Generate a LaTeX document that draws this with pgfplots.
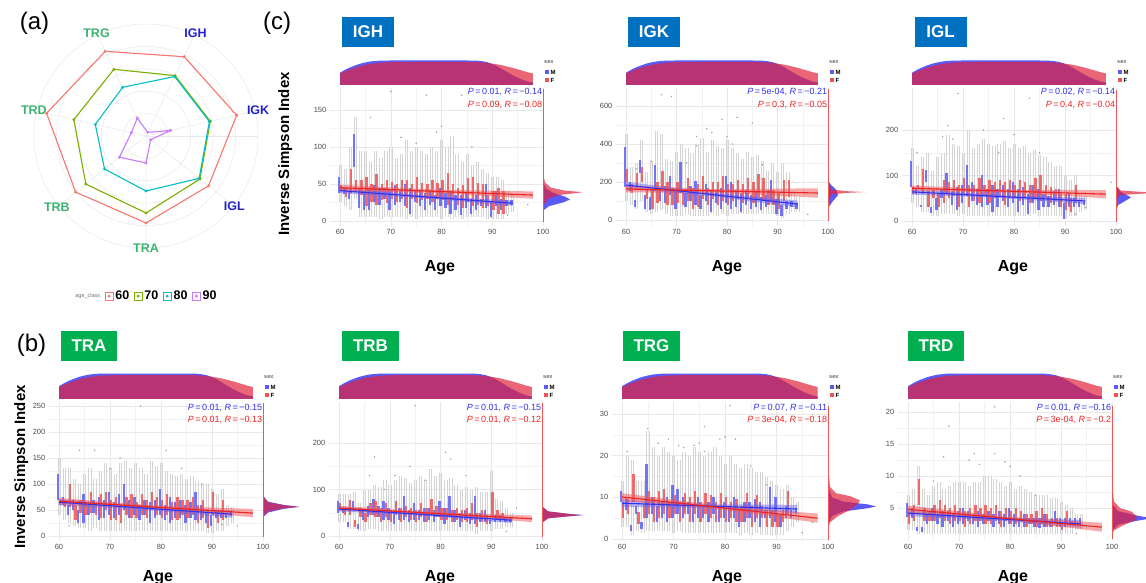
\documentclass[border=0pt]{standalone}
\usepackage{pgfplots}
\pgfplotsset{compat=1.18}
\usepackage{pgfplotstable}
\usepgfplotslibrary{polar}
\usepackage{fontspec}
\setmainfont{Liberation Sans}

\definecolor{c60}{HTML}{F8766D}
\definecolor{c70}{HTML}{7CAE00}
\definecolor{c80}{HTML}{00BFC4}
\definecolor{c90}{HTML}{C77CFF}
\definecolor{trtxt}{RGB}{60,179,113}
\definecolor{igtxt}{RGB}{34,34,204}
\definecolor{igbox}{RGB}{0,112,192}
\definecolor{trbox}{RGB}{0,176,80}
\definecolor{mb}{RGB}{95,95,245}
\definecolor{fr}{RGB}{240,85,85}
\definecolor{mline}{RGB}{50,50,235}
\definecolor{fline}{RGB}{235,35,35}
\definecolor{dm}{RGB}{90,90,245}
\definecolor{df}{RGB}{225,35,60}
\definecolor{tickc}{RGB}{77,77,77}
\definecolor{gridc}{RGB}{232,232,232}
\definecolor{whc}{RGB}{212,212,212}
\definecolor{outc}{RGB}{160,160,160}

% age distribution shared by all top margins (0..1)
\pgfplotstableread{
x  m     f
60 0.50  0.47
61 0.62  0.56
62 0.72  0.64
63 0.80  0.71
64 0.87  0.77
65 0.92  0.82
66 0.96  0.86
67 0.98  0.89
68 0.995 0.91
70 1.00  0.93
75 1.00  0.94
80 1.00  0.94
85 1.00  0.94
87 0.99  0.93
88 0.97  0.92
89 0.93  0.90
90 0.86  0.87
91 0.76  0.84
92 0.64  0.80
93 0.52  0.75
94 0.40  0.70
95 0.30  0.64
96 0.21  0.58
97 0.14  0.52
98 0.10  0.47
}\topdens

% a: age, ml/mh: male box, fl/fh: female box, wl/wh: whiskers
\pgfplotstableread{
a  ml mh  fl fh  wl wh
60 38 60  40 48  25 75
61 36 44  32 46  20 70
62 30 40  38 70  15 100
63 73 118 40 55  30 140
64 18 45  35 55  5 95
65 15 40  20 60  5 95
66 15 45  25 50  5 80
67 25 48  22 63  5 95
68 22 45  28 50  3 85
69 30 45  24 55  5 95
70 15 42  30 53  5 100
71 22 48  25 50  5 85
72 25 40  30 55  5 90
73 20 50  18 55  3 110
74 10 45  30 50  5 95
75 25 40  24 60  3 100
76 20 42  28 52  5 95
77 15 38  30 50  5 90
78 22 42  25 55  5 100
79 15 35  30 52  5 95
80 20 45  28 55  3 110
81 18 38  22 65  5 100
82 10 40  28 50  3 115
83 15 35  22 45  5 90
84 8  35  18 48  3 80
85 18 38  25 58  5 90
86 10 30  20 60  5 75
87 15 35  22 52  5 80
88 20 30  18 50  5 70
89 18 50  20 35  3 65
90 5  25  15 40  3 60
91 20 40  10 45  3 60
92 15 30  10 40  3 55
93 20 28  nan nan 10 40
94 22 28  nan nan 12 35
}\tIGH

\pgfplotstableread{
a  ml  mh  fl  fh  wl wh
60 175 385 200 270 100 450
61 150 200 140 190 80 280
62 70  105 170 245 60 300
63 245 315 200 280 100 420
64 60  130 110 160 40 250
65 50  120 60  160 30 310
66 150 290 90  200 40 470
67 100 160 160 260 50 450
68 90  180 80  200 30 320
69 130 230 80  170 20 310
70 60  160 90  200 20 360
71 140 305 80  160 20 400
72 70  140 100 220 30 380
73 100 180 60  170 20 350
74 80  205 70  190 20 400
75 60  130 110 230 20 430
76 100 190 80  170 20 360
77 40  150 110 200 30 420
78 90  150 80  200 20 390
79 60  170 100 230 30 380
80 90  230 80  190 20 420
81 60  200 100 190 30 380
82 70  160 110 210 30 350
83 40  140 90  190 30 320
84 80  160 110 220 30 360
85 60  130 90  200 30 330
86 70  150 110 240 30 340
87 50  120 100 220 30 310
88 70  130 80  160 30 260
89 100 210 80  160 30 300
90 30  110 60  140 20 250
91 20  80  100 210 10 300
92 60  100 120 210 30 250
93 70  100 nan nan 40 140
94 60  90  nan nan 40 120
}\tIGK

\pgfplotstableread{
a  ml mh  fl fh  wl wh
60 75 132 60 75  40 160
61 60 70  70 80  30 120
62 30 35  60 115 20 140
63 85 112 30 65  20 150
64 18 30  50 70  10 110
65 25 50  30 60  10 140
66 50 70  40 90  15 150
67 60 105 50 85  15 190
68 35 65  55 90  15 170
69 25 75  30 80  10 165
70 40 80  60 95  15 150
71 55 122 30 80  10 200
72 45 85  45 80  10 160
73 35 70  40 95  10 170
74 30 100 55 80  10 180
75 35 70  40 90  10 170
76 20 80  50 85  10 165
77 30 70  55 90  10 170
78 45 80  35 85  10 175
79 30 70  50 90  10 160
80 40 85  50 80  10 170
81 20 70  45 90  10 160
82 35 75  50 85  10 165
83 15 60  40 80  10 150
84 40 80  50 95  15 155
85 25 70  45 100 10 145
86 30 60  50 80  10 140
87 30 55  40 75  10 130
88 35 65  45 70  10 120
89 30 70  30 60  10 120
90 5  40  25 60  5 100
91 30 60  20 50  10 90
92 30 50  40 80  10 100
93 30 45  nan nan 20 60
94 35 45  nan nan 25 55
}\tIGL

\pgfplotstableread{
a  ml mh  fl fh  wl wh
60 70 120 60 70  40 150
61 60 75  55 70  30 130
62 40 60  55 100 25 130
63 50 70  30 60  20 110
64 25 50  45 70  15 100
65 25 80  40 65  15 120
66 40 60  45 85  10 130
67 45 70  40 60  15 110
68 30 75  35 80  10 125
69 35 70  50 85  10 140
70 40 85  30 70  10 130
71 35 65  30 75  10 120
72 40 80  25 60  10 140
73 50 100 40 75  10 145
74 35 70  35 80  10 130
75 40 75  35 65  10 140
76 30 60  40 80  10 130
77 40 70  35 70  10 120
78 25 65  50 85  10 145
79 35 70  40 75  10 135
80 40 90  35 70  10 140
81 30 60  40 80  10 125
82 25 75  30 65  10 120
83 35 65  30 75  10 115
84 35 70  40 70  10 120
85 25 60  35 70  10 110
86 35 65  40 75  10 115
87 30 85  25 60  10 105
88 30 60  35 70  10 100
89 25 45  15 50  5 100
90 20 40  40 85  5 90
91 35 50  25 50  10 80
92 35 50  30 70  10 90
93 35 45  nan nan 20 60
94 38 48  nan nan 25 55
}\tTRA

\pgfplotstableread{
a  ml mh fl fh  wl wh
60 50 75 55 70  30 90
61 50 60 45 60  30 90
62 20 30 45 78  15 90
63 55 75 20 35  15 95
64 15 25 40 60  10 70
65 35 55 30 50  10 100
66 40 65 45 70  15 100
67 45 80 40 75  15 110
68 40 65 30 60  10 105
69 35 75 40 70  10 120
70 35 60 30 55  10 110
71 25 55 45 75  10 120
72 35 60 30 60  10 130
73 35 85 40 65  10 125
74 30 55 35 60  10 115
75 35 70 30 55  10 120
76 35 55 40 70  10 130
77 30 60 30 60  10 120
78 35 60 45 80  10 145
79 30 55 40 65  10 130
80 40 75 35 60  10 135
81 25 60 35 60  10 120
82 40 85 30 55  10 125
83 30 55 35 60  10 110
84 20 50 30 55  10 100
85 35 55 30 60  10 105
86 25 50 35 70  10 100
87 25 85 20 50  5 105
88 30 50 30 55  10 95
89 30 55 25 45  10 95
90 25 35 40 95  10 140
91 30 45 35 55  15 80
92 30 45 35 50  15 75
93 30 40 nan nan 20 60
94 30 40 nan nan 20 50
}\tTRB

\pgfplotstableread{
a  ml  mh   fl  fh   wl  wh
60 9   11.5 5   9    3   14
61 7   10   6   9.5  3   20
62 2   3.3  9   15.5 1   19
63 6   8    3.5 6.5  2   14
64 2.5 4    5   8.5  1.5 14
65 5   18   6   11.5 2   26
66 6   10   4   10   2   22
67 4   8    5   11.5 2   20
68 5   9    6   12   2   22
69 4   10   5   9    2   21
70 5   13   6   10.5 1.5 20
71 6   12   4   9    2   19
72 5   10   6   11   1.5 21
73 6   9    4   10   1.5 20
74 4   8    6   11.5 1.5 22
75 5   10   4   9    1.5 21
76 5   8    6   11   1.5 20
77 4   9    5   10.5 1.5 21
78 6   10   4   9    1.5 22
79 4   8    5   11   1.5 20
80 5   9    4   10   1.5 18
81 4   8    5   9    1.5 20
82 5   10   4   9.5  1.5 18
83 3   7    4   8    1   17
84 4   9    5   11   1.5 18
85 5   9    3   8    1   17
86 4   9.5  5   10.5 1.5 16
87 3   9    5   8    1   16
88 5   7    3   7    1   15
89 5   12.5 3   7    1   14
90 4   10   3   6    1   13
91 3   6    4   7    1   12
92 5   8    6   11.5 2   13
93 5   7    nan nan  3   10
94 6   7.5  nan nan  4   9
}\tTRG

\pgfplotstableread{
a  ml  mh  fl  fh  wl  wh
60 3.6 5.8 2.5 4.4 1.5 7
61 3.5 5   3   5.5 1.5 8
62 1.4 2   5.5 9.6 1   11.5
63 1.2 2   3   5   1   8
64 2.5 4   3   4.5 1   7
65 3   5   3   5.5 1   8.5
66 2.5 4   3.5 6.2 1   9
67 2   4.5 3   5.5 1   8
68 3   4.5 2.5 5   1   8.5
69 2   4   3   5.5 1   9
70 2.5 4.5 3   5   1   9
71 2.5 5   2   4.5 1   9
72 3   4.5 2.5 5   1   8.5
73 2.5 4   3   5.5 1   9
74 2   4.5 3   5   1   9
75 2.5 4   2.5 5.5 1   10
76 3   4.5 2.5 5   1   10
77 2   4   3   5.5 1   9.5
78 2.5 4.5 2   4.5 1   9
79 2   4   3   5   1   8.5
80 2.5 5   2.5 4.5 1   9
81 2   4   2.5 5   1   8
82 2   3.5 3   4.5 1   8.5
83 2   4   2   4   1   8
84 2.5 3.5 2.5 4   1   7.5
85 2   3.5 2   4.5 1   7
86 1.8 3.5 2.5 5   1   7
87 2   4   2   4   1   7
88 2   3   2   3.5 1   6.5
89 2.5 4.5 2   3.5 1   6.5
90 2   3.5 1.5 2.5 1   6
91 2   3.5 2.5 4.5 1   5.5
92 2.5 3.5 2.5 3   1   5
93 2.5 3.5 nan nan 1.5 4
94 2.5 3.5 nan nan 1.5 4
}\tTRD

\pgfplotsset{
  mainax/.style={scale only axis, xmin=58, xmax=100, xtick={60,70,...,100},
    minor xtick={65,75,85,95}, minor y tick num=1, grid=both,
    major grid style={draw=gridc, line width=0.5pt},
    minor grid style={draw=gridc!55, line width=0.35pt},
    axis line style={draw=none}, tick style={draw=none},
    ticklabel style={font=\fontsize{7.5}{8}\selectfont, text=tickc},
    /pgf/number format/assume math mode=true},
  topax/.style={scale only axis, hide axis, xmin=58, xmax=100, ymin=0, ymax=1.02},
  rightax/.style={scale only axis, hide axis, xmin=0, xmax=60, width=60pt, clip=false},
  whisk/.style={draw=none, mark=none, error bars/.cd, y dir=both, y explicit,
    error mark=none, error bar style={draw=whc, line width=0.35pt}},
  boxm/.style={draw=none, mark=none, error bars/.cd, y dir=both, y explicit,
    error mark=none, error bar style={draw=mb, draw opacity=0.85, line width=2.3pt}},
  boxf/.style={draw=none, mark=none, error bars/.cd, y dir=both, y explicit,
    error mark=none, error bar style={draw=fr, draw opacity=0.85, line width=2.3pt}},
  outl/.style={color=outc, only marks, mark=*, mark size=0.5pt, mark options={draw=none, fill=outc}},
  bandm/.style={fill=mb, fill opacity=0.45, draw=none},
  bandf/.style={fill=fr, fill opacity=0.5, draw=none},
  regm/.style={mline, line width=1.1pt},
  regf/.style={fline, line width=1.1pt},
  densm/.style={fill=dm, draw=none},
  densf/.style={fill=df, fill opacity=0.7, draw=none},
}

\newcommand\boxset[1]{%
  \addplot[whisk] table[x expr=\thisrow{a}-0.22, y expr=0.5*(\thisrow{wl}+\thisrow{wh}), y error expr=0.5*(\thisrow{wh}-\thisrow{wl})] {#1};
  \addplot[whisk] table[x expr=\thisrow{a}+0.22, y expr=0.5*(\thisrow{wl}+\thisrow{wh}), y error expr=0.5*(\thisrow{wh}-\thisrow{wl})] {#1};
  \addplot[boxm] table[x expr=\thisrow{a}-0.22, y expr=0.5*(\thisrow{ml}+\thisrow{mh}), y error expr=0.5*(\thisrow{mh}-\thisrow{ml})] {#1};
  \addplot[boxf] table[x expr=\thisrow{a}+0.22, y expr=0.5*(\thisrow{fl}+\thisrow{fh}), y error expr=0.5*(\thisrow{fh}-\thisrow{fl})] {#1};
}
\newcommand\statfont{\fontsize{9}{9}\selectfont}
\newcommand\PR[2]{\textit{P}\,=\,#1, \textit{R}\,=\,#2}
\newcommand\stats[5]{%
  \node[anchor=east, inner sep=0pt, text=mline, font=\statfont] at (#1-0.7,#2) {#4};
  \node[anchor=east, inner sep=0pt, text=fline, font=\statfont] at (#1-0.7,#3) {#5};}
\newcommand\sexleg[2]{%
  \node[anchor=west, inner sep=0pt, text=black!60, font=\bfseries\fontsize{5.5}{5.5}\selectfont] at (#1+1,#2) {sex};
  \node[fill=dm, minimum size=4.5pt, inner sep=0pt] at (#1+4,#2-10) {};
  \node[anchor=west, inner sep=0pt, font=\bfseries\fontsize{6}{6}\selectfont] at (#1+7.5,#2-10) {M};
  \node[fill=fr, minimum size=4.5pt, inner sep=0pt] at (#1+4,#2-18) {};
  \node[anchor=west, inner sep=0pt, font=\bfseries\fontsize{6}{6}\selectfont] at (#1+7.5,#2-18) {F};}
\newcommand\agelab[2]{\node[anchor=base, font=\bfseries\fontsize{16}{16}\selectfont] at (#1,#2) {Age};}
\newcommand\ylab[2]{\node[anchor=base, rotate=90, font=\bfseries\fontsize{15}{15}\selectfont] at (#1,#2) {Inverse Simpson Index};}
\newcommand\tbox[5]{\node[fill=#4, text=white, font=\bfseries\fontsize{17}{17}\selectfont, minimum width=#3pt, minimum height=30pt, inner sep=0pt] at (#1,#2) {#5};}
\newcommand\rlab[4]{\node[text=#1, font=\bfseries\fontsize{12.5}{12.5}\selectfont] at (axis cs:#2,#3) {#4};}

\begin{document}
\begin{tikzpicture}[x=1pt,y=1pt]
\useasboundingbox (0,0) rectangle (1146,583);

% ---------------- (a) radar ----------------
\begin{polaraxis}[at={(146pt,447pt)}, anchor=origin, scale only axis,
  width=224pt, height=224pt, ymin=0, ymax=112, clip=false,
  xtick={12.857,64.286,115.714,167.143,218.571,270,321.429}, xticklabel={\relax},
  ytick={22.4,44.8,67.2,89.6}, yticklabel={\relax},
  grid=major, major grid style={draw=black!9, line width=0.5pt},
  axis line style={draw=black!9, line width=0.5pt}, tick style={draw=none},
  legend style={at={(0.5,-0.215)}, anchor=center, draw=none, fill=none,
    legend columns=-1, inner sep=0pt, font=\bfseries\fontsize{12.5}{12.5}\selectfont,
    /tikz/every even column/.append style={column sep=2.5pt}},
  legend image code/.code={\draw[#1, line width=0.7pt, fill=white] (0pt,-4pt) rectangle (8pt,4pt);
    \fill[#1] (4pt,0pt) circle (0.8pt);},
]
\addlegendimage{empty legend}
\addlegendentry{\mdseries\fontsize{5.5}{5.5}\selectfont\textcolor{black!55}{age\_class}}
\addplot[c60, line width=1.1pt, mark=*, mark size=0.8pt] coordinates {(12.857,93) (64.286,88) (115.714,94) (167.143,102) (218.571,90) (270,87) (321.429,80) (372.857,93)};
\addlegendentry{60}
\addplot[c70, line width=1.1pt, mark=*, mark size=0.8pt] coordinates {(12.857,66) (64.286,67) (115.714,74) (167.143,74) (218.571,77) (270,77) (321.429,69) (372.857,66)};
\addlegendentry{70}
\addplot[c80, line width=1.1pt, mark=*, mark size=0.8pt] coordinates {(12.857,65) (64.286,66) (115.714,54) (167.143,52) (218.571,53) (270,55) (321.429,68) (372.857,65)};
\addlegendentry{80}
\addplot[c90, line width=1.1pt, mark=*, mark size=0.8pt] coordinates {(12.857,25) (64.286,4) (115.714,20) (167.143,15) (218.571,34) (270,27) (321.429,6) (372.857,25)};
\addlegendentry{90}
\rlab{trtxt}{115.714}{114}{TRG}
\rlab{igtxt}{64.286}{114}{IGH}
\rlab{igtxt}{12.857}{115}{IGK}
\rlab{igtxt}{321.429}{113}{IGL}
\rlab{trtxt}{270}{112}{TRA}
\rlab{trtxt}{218.571}{114}{TRB}
\rlab{trtxt}{167.143}{115}{TRD}
\end{polaraxis}

\node[font=\fontsize{24}{24}\selectfont] at (34.5,560) {(a)};
\node[font=\fontsize{24}{24}\selectfont] at (31.5,238) {(b)};
\node[font=\fontsize{24}{24}\selectfont] at (277,560) {(c)};
\ylab{289}{429}
\ylab{25}{116}

% ---------------- IGH ----------------
\begin{axis}[topax, at={(329.85pt,498pt)}, width=213.15pt, height=25pt]
\addplot[densm] table[x=x,y=m] {\topdens} \closedcycle;
\addplot[densf] table[x=x,y=f] {\topdens} \closedcycle;
\end{axis}
\begin{axis}[mainax, at={(329.85pt,357pt)}, width=213.15pt, height=138pt,
  ymin=-6.76, ymax=179.7, ytick={0,50,100,150}]
\boxset{\tIGH}
\addplot[outl] coordinates {(62,55) (66,140) (70,175) (72,113) (75,105) (77,170) (79,120) (80,128) (84,170) (86,100) (93,8) (97,22)};
\addplot[bandm] coordinates {(60,44.5) (77,34.3) (94,27.5) (94,20.5) (77,30.7) (60,37.5)};
\addplot[bandf] coordinates {(60,49) (79,42.2) (98,40) (98,30) (79,37.8) (60,41)};
\addplot[regm] coordinates {(60,41) (94,24)};
\addplot[regf] coordinates {(60,45) (98,35)};
\end{axis}
\begin{axis}[rightax, at={(543pt,357pt)}, height=138pt, ymin=-6.76, ymax=179.7]
\addplot[densm] coordinates {(0,5) (1,15) (6,20) (20,25) (27,29) (22,33) (10,38) (3,44) (0.5,52) (0,60)};
\addplot[densf] coordinates {(0,10) (1,22) (5,30) (15,35) (35,38) (40,39) (22,41) (8,45) (2,52) (0,65)};
\addplot[fr, line width=0.6pt] coordinates {(0,-1) (0,178)};
\end{axis}
\tbox{368}{551}{52}{igbox}{IGH}
\stats{543}{491}{478}{\PR{0.01}{−0.14}}{\PR{0.09}{−0.08}}
\sexleg{543}{521}
\agelab{440}{311}

% ---------------- IGK ----------------
\begin{axis}[topax, at={(615.9pt,498pt)}, width=212.1pt, height=25pt]
\addplot[densm] table[x=x,y=m] {\topdens} \closedcycle;
\addplot[densf] table[x=x,y=f] {\topdens} \closedcycle;
\end{axis}
\begin{axis}[mainax, at={(615.9pt,357pt)}, width=212.1pt, height=138pt,
  ymin=-31.6, ymax=694.7, ytick={0,200,400,600}]
\boxset{\tIGK}
\addplot[outl] coordinates {(62,270) (65,310) (67,660) (69,650) (72,300) (74,440) (74,390) (76,480) (77,460) (79,530) (80,440) (81,400) (82,540) (85,510) (87,290) (96,30)};
\addplot[bandm] coordinates {(60,202) (77,143) (94,102) (94,66) (77,125) (60,166)};
\addplot[bandf] coordinates {(60,181) (79,161.5) (98,167) (98,117) (79,143.5) (60,145)};
\addplot[regm] coordinates {(60,184) (94,84)};
\addplot[regf] coordinates {(60,163) (98,142)};
\end{axis}
\begin{axis}[rightax, at={(828pt,357pt)}, height=138pt, ymin=-31.6, ymax=694.7]
\addplot[densm] coordinates {(0,40) (1,70) (5,100) (10,130) (8,160) (3,185) (0.5,205) (0,230)};
\addplot[densf] coordinates {(0,60) (1,110) (4,135) (20,143) (38,147) (20,151) (4,160) (1,180) (0,220)};
\addplot[fr, line width=0.6pt] coordinates {(0,-5) (0,690)};
\end{axis}
\tbox{654}{551}{52}{igbox}{IGK}
\stats{828}{491}{478}{\PR{5e-04}{−0.21}}{\PR{0.3}{−0.05}}
\sexleg{828}{521}
\agelab{727}{311}

% ---------------- IGL ----------------
\begin{axis}[topax, at={(901.8pt,498pt)}, width=214.2pt, height=25pt]
\addplot[densm] table[x=x,y=m] {\topdens} \closedcycle;
\addplot[densf] table[x=x,y=f] {\topdens} \closedcycle;
\end{axis}
\begin{axis}[mainax, at={(901.8pt,357pt)}, width=214.2pt, height=138pt,
  ymin=-11, ymax=292.3, ytick={0,100,200}]
\boxset{\tIGL}
\addplot[outl] coordinates {(61,150) (66,185) (67,210) (68,180) (69,280) (74,200) (77,150) (78,225) (80,190) (83,270) (85,150) (92,15) (94,30) (99,85)};
\addplot[bandm] coordinates {(60,70) (77,57) (94,51) (94,37) (77,51) (60,58)};
\addplot[bandf] coordinates {(60,78) (79,68.5) (98,68) (98,50) (79,62.5) (60,66)};
\addplot[regm] coordinates {(60,64) (94,44)};
\addplot[regf] coordinates {(60,72) (98,59)};
\end{axis}
\begin{axis}[rightax, at={(1116pt,357pt)}, height=138pt, ymin=-11, ymax=292.3]
\addplot[densm] coordinates {(0,20) (2,35) (10,45) (15,52) (10,58) (4,65) (1,75) (0,90)};
\addplot[densf] coordinates {(0,30) (1,50) (4,57) (25,60) (45,62) (25,64) (5,67) (1,75) (0,100)};
\addplot[fr, line width=0.6pt] coordinates {(0,-2) (0,288)};
\end{axis}
\tbox{940.5}{551}{52}{igbox}{IGL}
\stats{1116}{491}{478}{\PR{0.02}{−0.14}}{\PR{0.4}{−0.04}}
\sexleg{1116}{521}
\agelab{1013}{311}

% ---------------- TRA ----------------
\begin{axis}[topax, at={(48.8pt,184pt)}, width=214.2pt, height=26pt]
\addplot[densm] table[x=x,y=m] {\topdens} \closedcycle;
\addplot[densf] table[x=x,y=f] {\topdens} \closedcycle;
\end{axis}
\begin{axis}[mainax, at={(48.8pt,42pt)}, width=214.2pt, height=139pt,
  ymin=-9.6, ymax=257.7, ytick={0,50,...,250}]
\boxset{\tTRA}
\addplot[outl] coordinates {(62,20) (64,165) (67,165) (70,130) (72,150) (76,250) (81,165) (84,130) (88,100) (92,22) (95,20)};
\addplot[bandm] coordinates {(60,71) (77,56.5) (94,49) (94,35) (77,50.5) (60,59)};
\addplot[bandf] coordinates {(60,73) (79,58.5) (98,52) (98,36) (79,52.5) (60,61)};
\addplot[regm] coordinates {(60,65) (94,42)};
\addplot[regf] coordinates {(60,67) (98,44)};
\end{axis}
\begin{axis}[rightax, at={(263pt,42pt)}, height=139pt, ymin=-9.6, ymax=257.7]
\addplot[densm] coordinates {(0,20) (1,38) (5,45) (20,52) (36,56) (20,60) (5,66) (1,75) (0,100)};
\addplot[densf] coordinates {(0,20) (1,40) (5,47) (20,53) (37,56) (22,59) (5,65) (1,75) (0,100)};
\addplot[fr, line width=0.6pt] coordinates {(0,-2) (0,255)};
\end{axis}
\tbox{89}{237}{56}{trbox}{TRA}
\stats{263}{175}{163}{\PR{0.01}{−0.15}}{\PR{0.01}{−0.13}}
\sexleg{263}{206}
\agelab{158}{1.5}

% ---------------- TRB ----------------
\begin{axis}[topax, at={(328.85pt,184pt)}, width=213.15pt, height=26pt]
\addplot[densm] table[x=x,y=m] {\topdens} \closedcycle;
\addplot[densf] table[x=x,y=f] {\topdens} \closedcycle;
\end{axis}
\begin{axis}[mainax, at={(328.85pt,42pt)}, width=213.15pt, height=139pt,
  ymin=-10.75, ymax=288.2, ytick={0,100,200}]
\boxset{\tTRB}
\addplot[outl] coordinates {(66,130) (67,170) (69,100) (71,130) (74,150) (75,280) (77,120) (81,180) (82,165) (85,130) (93,10) (95,60)};
\addplot[bandm] coordinates {(60,63) (77,48.5) (94,40) (94,28) (77,43.5) (60,53)};
\addplot[bandf] coordinates {(60,65) (79,51) (98,44) (98,30) (79,46) (60,55)};
\addplot[regm] coordinates {(60,58) (94,34)};
\addplot[regf] coordinates {(60,60) (98,37)};
\end{axis}
\begin{axis}[rightax, at={(542pt,42pt)}, height=139pt, ymin=-10.75, ymax=288.2]
\addplot[densm] coordinates {(0,15) (1,30) (6,38) (25,42) (42,45) (25,48) (6,53) (1,62) (0,80)};
\addplot[densf] coordinates {(0,15) (1,30) (6,38) (25,42) (39,45) (25,48) (6,53) (1,62) (0,80)};
\addplot[fr, line width=0.6pt] coordinates {(0,-2) (0,285)};
\end{axis}
\tbox{370.5}{237}{57}{trbox}{TRB}
\stats{542}{175}{163}{\PR{0.01}{−0.15}}{\PR{0.01}{−0.12}}
\sexleg{542}{206}
\agelab{440}{1.5}

% ---------------- TRG ----------------
\begin{axis}[topax, at={(611.7pt,184pt)}, width=216.3pt, height=26pt]
\addplot[densm] table[x=x,y=m] {\topdens} \closedcycle;
\addplot[densf] table[x=x,y=f] {\topdens} \closedcycle;
\end{axis}
\begin{axis}[mainax, at={(611.7pt,42pt)}, width=216.3pt, height=139pt,
  ymin=-0.48, ymax=32.9, ytick={0,10,20,30}]
\boxset{\tTRG}
\addplot[outl] coordinates {(61,21) (65,26.5) (67,23) (69,24) (71,22.5) (72,22) (74,22.5) (75,23) (76,27) (76,21) (79,24) (80,24.5) (81,32) (82,24) (85,17.5) (88,13) (95,1.5) (97,4)};
\addplot[bandm] coordinates {(60,9.5) (77,8.35) (94,8.2) (94,6.2) (77,7.45) (60,7.7)};
\addplot[bandf] coordinates {(60,11.0) (79,8.0) (98,6.1) (98,3.9) (79,7.1) (60,9.2)};
\addplot[regm] coordinates {(60,8.6) (94,7.2)};
\addplot[regf] coordinates {(60,10.1) (98,5.0)};
\end{axis}
\begin{axis}[rightax, at={(828pt,42pt)}, height=139pt, ymin=-0.48, ymax=32.9]
\addplot[densm] coordinates {(0,2) (1,4) (4,5.5) (15,6.6) (40,7.4) (48,7.8) (40,8.3) (15,9.0) (4,10) (1,12) (0,16)};
\addplot[densf] coordinates {(0,2) (2,4) (10,5.5) (22,7) (30,8.5) (32,9.3) (22,10.3) (8,11) (2,12.5) (0,18)};
\addplot[fr, line width=0.6pt] coordinates {(0,-0.2) (0,32)};
\end{axis}
\tbox{651.5}{237}{57}{trbox}{TRG}
\stats{828}{175}{163}{\PR{0.07}{−0.11}}{\PR{3e-04}{−0.18}}
\sexleg{828}{206}
\agelab{727}{1.5}

% ---------------- TRD ----------------
\begin{axis}[topax, at={(897.8pt,184pt)}, width=214.2pt, height=26pt]
\addplot[densm] table[x=x,y=m] {\topdens} \closedcycle;
\addplot[densf] table[x=x,y=f] {\topdens} \closedcycle;
\end{axis}
\begin{axis}[mainax, at={(897.8pt,42pt)}, width=214.2pt, height=139pt,
  ymin=-0.16, ymax=21.56, ytick={5,10,15,20}]
\boxset{\tTRD}
\addplot[outl] coordinates {(65,9.2) (67,13) (68,17.8) (72,12.5) (73,13.5) (74,11.8) (77,20.8) (77,13.5) (79,12.2) (80,11.5) (82,10) (85,7) (93,1) (95,2)};
\addplot[bandm] coordinates {(60,4.7) (77,3.6) (94,3.1) (94,1.9) (77,3.1) (60,3.7)};
\addplot[bandf] coordinates {(60,5.4) (79,3.65) (98,2.7) (98,1.3) (79,3.15) (60,4.2)};
\addplot[regm] coordinates {(60,4.2) (94,2.5)};
\addplot[regf] coordinates {(60,4.8) (98,2.0)};
\end{axis}
\begin{axis}[rightax, at={(1112pt,42pt)}, height=139pt, ymin=-0.16, ymax=21.56]
\addplot[densm] coordinates {(0,0.8) (1,1.6) (6,2.4) (25,3.0) (40,3.4) (25,3.8) (6,4.5) (1,5.5) (0,8)};
\addplot[densf] coordinates {(0,0.8) (2,1.5) (10,2.2) (22,3.0) (25,3.6) (20,4.4) (8,5.0) (2,6) (0,9)};
\addplot[fr, line width=0.6pt] coordinates {(0,0.2) (0,21)};
\end{axis}
\tbox{936}{237}{56}{trbox}{TRD}
\stats{1112}{175}{163}{\PR{0.01}{−0.16}}{\PR{3e-04}{−0.2}}
\sexleg{1112}{206}
\agelab{1013}{1.5}

\end{tikzpicture}
\end{document}
